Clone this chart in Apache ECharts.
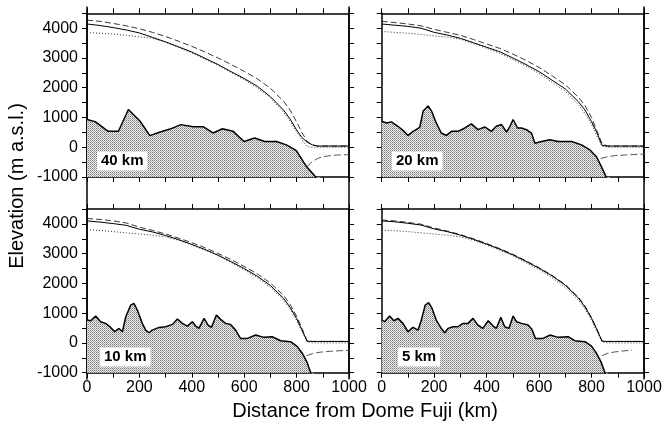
<!DOCTYPE html>
<html><head><meta charset="utf-8">
<script src="https://cdn.jsdelivr.net/npm/echarts@6/dist/echarts.min.js"></script>
<style>html,body{margin:0;padding:0;background:#fff}#c{width:671px;height:428px}</style>
</head><body><div id="c"></div>
<script>
// ---- data ----
const panelLabels = ['40 km', '20 km', '10 km', '5 km'];
const xTicks = [0, 200, 400, 600, 800, 1000];
const yTicks = [-1000, 0, 1000, 2000, 3000, 4000];

const surfX = [0,50,100,150,200,250,300,350,400,450,500,550,600,650,700,750,775,800,820,840,860,880,1000];

const solid40  = [4140,4090,4020,3940,3840,3690,3540,3370,3200,2990,2780,2540,2310,2050,1700,1250,950,580,330,170,80,40,40];
const dashed40 = [4270,4230,4160,4080,3980,3860,3720,3560,3390,3200,3000,2780,2550,2300,1980,1550,1250,850,500,200,80,40,40];
const dotted40 = [3850,3830,3800,3760,3710,3660,3530,3350,3170,2960,2750,2510,2270,2000,1650,1180,880,520,260,20,0,0,0];

const solid20  = [4140,4100,4060,4000,3860,3770,3660,3510,3360,3210,3000,2780,2540,2250,1960,1530,1250,860,500,60,40,40,40];
const dashed20 = [4230,4190,4140,4080,3960,3860,3760,3620,3470,3320,3130,2920,2680,2400,2100,1680,1400,1000,560,120,40,40,40];
const dotted20 = [3890,3860,3830,3790,3740,3700,3630,3480,3320,3160,2950,2730,2480,2180,1880,1430,1130,780,380,40,0,0,0];

const solid10  = [4100,4060,4010,3950,3820,3730,3610,3470,3310,3140,2950,2730,2500,2240,1930,1500,1200,820,450,60,50,50,50];
const dashed10 = [4180,4150,4100,4030,3890,3780,3660,3520,3370,3200,3010,2800,2570,2320,2010,1600,1300,900,500,70,50,50,50];
const dotted10 = [3800,3780,3740,3700,3660,3620,3560,3450,3290,3120,2930,2700,2460,2190,1870,1440,1140,760,380,40,0,0,0];

const solid5  = [4100,4070,4020,3960,3830,3740,3620,3480,3320,3150,2960,2740,2510,2250,1940,1510,1210,830,460,60,50,50,50];
const dashed5 = [4130,4100,4050,3990,3860,3760,3640,3500,3340,3170,2980,2760,2530,2270,1960,1540,1240,850,470,60,50,50,50];
const dotted5 = [3790,3770,3740,3700,3660,3620,3560,3450,3290,3120,2930,2700,2460,2190,1870,1440,1140,760,380,40,0,0,0];

const bed40X = [0,31,81,120,158,202,240,279,317,358,405,443,481,517,557,599,640,678,723,761,799,837,873,890];
const bed40Y = [930,860,535,535,1270,880,390,510,610,760,690,690,480,620,540,195,310,195,195,80,-115,-640,-1000,-1200];

const bed20X = [0,18,37,62,81,100,120,145,158,177,190,208,227,247,266,291,317,342,367,393,418,437,457,476,488,501,518,533,552,571,584,609,641,673,724,762,794,819,838,857,870];
const bed20Y = [874,817,852,704,567,396,533,670,1216,1387,1216,817,477,396,533,533,647,784,590,681,533,704,761,511,681,932,647,647,590,477,135,192,249,192,192,79,-92,-320,-661,-1025,-1250];

const bed10X = [0,14,33,52,71,90,106,122,135,148,167,179,192,211,224,237,249,275,300,326,345,364,383,402,415,427,447,462,475,494,510,529,548,567,586,612,644,675,707,739,777,803,822,839,854,866];
const bed10Y = [768,746,904,713,657,522,376,488,376,881,1273,1330,1105,657,432,343,432,522,545,623,802,657,567,713,567,488,825,600,522,937,792,657,623,432,153,153,265,187,209,75,41,-127,-353,-633,-1002,-1300];

const bed5X = [0,11,30,47,62,81,100,119,139,151,166,179,192,208,227,240,253,272,291,310,329,348,367,386,406,425,437,454,469,485,501,514,533,558,573,586,615,641,673,711,736,775,800,819,836,851,863];
const bed5Y = [768,713,904,746,825,657,376,522,432,768,1273,1352,1161,768,488,343,488,545,545,657,657,825,600,488,746,567,488,859,545,488,904,713,657,600,455,153,153,265,187,209,75,41,-105,-353,-633,-1002,-1300];

const shelf40X = [840,860,880,900,930,960,1000], shelf40Y = [-650,-480,-380,-320,-280,-260,-250];
const shelf20X = [835,860,890,930,960,1000],     shelf20Y = [-380,-320,-280,-260,-245,-230];
const shelf10X = [838,860,890,930,970,1000],     shelf10Y = [-430,-360,-310,-280,-260,-250];
const shelf5X  = [840,860,890,920,955],          shelf5Y  = [-430,-350,-300,-270,-240];

// ---- build ----
const panels = [
  {solid: solid40, dashed: dashed40, dotted: dotted40, bx: bed40X, by: bed40Y, sx: shelf40X, sy: shelf40Y},
  {solid: solid20, dashed: dashed20, dotted: dotted20, bx: bed20X, by: bed20Y, sx: shelf20X, sy: shelf20Y},
  {solid: solid10, dashed: dashed10, dotted: dotted10, bx: bed10X, by: bed10Y, sx: shelf10X, sy: shelf10Y},
  {solid: solid5,  dashed: dashed5,  dotted: dotted5,  bx: bed5X,  by: bed5Y,  sx: shelf5X,  sy: shelf5Y}
];
const zip = (a, b) => a.map((v, i) => [v, b[i]]);

// stipple pattern (light halftone dots)
const pc = document.createElement('canvas');
pc.width = 2; pc.height = 2;
const g = pc.getContext('2d');
g.fillStyle = '#eeeeee'; g.fillRect(0, 0, 2, 2);
g.fillStyle = '#777777'; g.fillRect(0, 0, 1, 1);
g.fillStyle = '#aaaaaa'; g.fillRect(1, 1, 1, 1);

const FONT = 'Liberation Sans, Arial, Helvetica, sans-serif';
const gridPos = [
  {left: 87, top: 13.3, width: 262, height: 163.7},
  {left: 381.7, top: 13.3, width: 262.3, height: 163.7},
  {left: 87, top: 209, width: 262, height: 163.7},
  {left: 381.7, top: 209, width: 262.3, height: 163.7}
];
const labelPos = [
  {left: 97, top: 151.5}, {left: 392, top: 151.5},
  {left: 100, top: 347.5}, {left: 398, top: 347.5}
];

const grid = [], xAxis = [], yAxis = [], series = [], title = [];
const lineCol = '#000';
gridPos.forEach((gp, i) => {
  grid.push(Object.assign({containLabel: false}, gp));
  const showX = i >= 2, showY = i % 2 === 0;
  const common = {
    type: 'value', gridIndex: i, min: 0, max: 1000, interval: 100,
    axisLine: {show: true, onZero: false, lineStyle: {color: lineCol, width: 1.5}},
    axisTick: {show: true, inside: false, length: 5, lineStyle: {color: lineCol, width: 1}},
    splitLine: {show: false}
  };
  xAxis.push(Object.assign({}, common, {position: 'bottom',
    axisLabel: {show: showX, margin: 7, fontSize: 16, color: '#000', fontFamily: FONT,
      formatter: v => xTicks.indexOf(v) >= 0 ? String(v) : ''}}));
  xAxis.push(Object.assign({}, common, {position: 'top', axisLabel: {show: false}}));
  const ycommon = {
    type: 'value', gridIndex: i, min: -1000, max: 4500, interval: 500,
    axisLine: {show: true, onZero: false, lineStyle: {color: lineCol, width: 1.5}},
    axisTick: {show: true, inside: false, length: 5, lineStyle: {color: lineCol, width: 1}},
    splitLine: {show: false}
  };
  yAxis.push(Object.assign({}, ycommon, {position: 'left',
    axisLabel: {show: showY, margin: 9, fontSize: 16, color: '#000', fontFamily: FONT,
      formatter: v => yTicks.indexOf(v) >= 0 ? String(v) : ''}}));
  yAxis.push(Object.assign({}, ycommon, {position: 'right', axisLabel: {show: false}}));

  const p = panels[i];
  const xi = 2 * i, yi = 2 * i;
  series.push({type: 'line', xAxisIndex: xi, yAxisIndex: yi, data: zip(p.bx, p.by),
    symbol: 'none', clip: true, z: 2,
    lineStyle: {color: '#000', width: 1.5},
    areaStyle: {origin: 'start', opacity: 1, color: {image: pc, repeat: 'repeat'}}});
  series.push({type: 'line', xAxisIndex: xi, yAxisIndex: yi, data: zip(p.sx, p.sy),
    symbol: 'none', clip: true, z: 3,
    lineStyle: {color: '#555', width: 1, type: [7, 3]}});
  series.push({type: 'line', xAxisIndex: xi, yAxisIndex: yi, data: zip(surfX, p.dotted),
    symbol: 'none', clip: true, z: 3,
    lineStyle: {color: '#333', width: 1, type: [1, 2]}});
  series.push({type: 'line', xAxisIndex: xi, yAxisIndex: yi, data: zip(surfX, p.dashed),
    symbol: 'none', clip: true, z: 4,
    lineStyle: {color: '#222', width: 0.9, type: [6, 3]}});
  series.push({type: 'line', xAxisIndex: xi, yAxisIndex: yi, data: zip(surfX, p.solid),
    symbol: 'none', clip: true, z: 5,
    lineStyle: {color: '#000', width: 1}});

  title.push(Object.assign({text: panelLabels[i], backgroundColor: '#fff', padding: [2, 4],
    textStyle: {fontSize: 15, fontWeight: 'bold', color: '#000', fontFamily: FONT}}, labelPos[i]));
});

// continuous frame lines between stacked panels
const frames = [
  {left: 87, top: 7, width: 262, height: 372, l: true, r: true},
  {left: 381.7, top: 7, width: 262.3, height: 372, l: false, r: true}
];
frames.forEach((f, k) => {
  const gi = grid.length;
  grid.push({left: f.left, top: f.top, width: f.width, height: f.height});
  xAxis.push({type: 'value', gridIndex: gi, show: false, min: 0, max: 1000});
  const base = {type: 'value', gridIndex: gi, min: 0, max: 1, axisTick: {show: false},
    axisLabel: {show: false}, splitLine: {show: false}};
  yAxis.push(Object.assign({}, base, {position: 'left', show: f.l,
    axisLine: {show: f.l, lineStyle: {color: '#000', width: 1.5}}}));
  yAxis.push(Object.assign({}, base, {position: 'right', show: f.r,
    axisLine: {show: f.r, lineStyle: {color: '#000', width: 1.5}}}));
});

const chart = echarts.init(document.getElementById('c'), null, {renderer: 'canvas'});
chart.setOption({
  animation: false,
  backgroundColor: '#fff',
  title: title,
  grid: grid, xAxis: xAxis, yAxis: yAxis, series: series,
  graphic: [
    {type: 'text', x: 17, y: 186, rotation: Math.PI / 2,
      style: {text: 'Elevation (m a.s.l.)', fill: '#000', font: '20px ' + FONT, align: 'center', verticalAlign: 'middle'}},
    {type: 'text', x: 365, y: 411,
      style: {text: 'Distance from Dome Fuji (km)', fill: '#000', font: '20px ' + FONT, align: 'center', verticalAlign: 'middle'}}
  ]
});
</script></body></html>
